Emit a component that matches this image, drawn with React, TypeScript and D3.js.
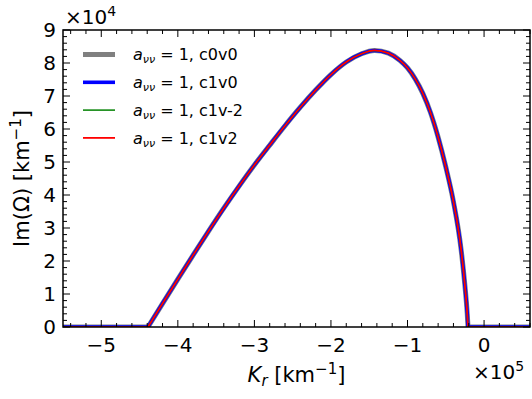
import React from "react";
import * as d3 from "d3";

// x in units of 1e5 km^-1, y in units of 1e4 km^-1
const kr = [-5.5, -4.39, -4.2, -4.0, -3.8, -3.6, -3.4, -3.2, -3.0, -2.8, -2.6, -2.4, -2.2, -2.0, -1.8, -1.6, -1.43, -1.25, -1.1, -1.0, -0.9, -0.8, -0.7, -0.6, -0.5, -0.4, -0.3, -0.25, -0.22, -0.21, 0.6];
const imOmega = [0, 0, 0.71, 1.45, 2.18, 2.9, 3.6, 4.27, 4.91, 5.51, 6.1, 6.66, 7.18, 7.65, 8.03, 8.28, 8.38, 8.3, 8.08, 7.85, 7.52, 7.08, 6.5, 5.75, 4.85, 3.8, 2.35, 1.25, 0.41, 0, 0];

const seriesNames = ["c0v0", "c1v0", "c1v-2", "c1v2"];
const seriesColors = ["#808080", "#0000ff", "#008000", "#ff0000"];
const seriesWidths = [5, 3.6, 1.5, 1.8];

const xTicks = [-5, -4, -3, -2, -1, 0];
const yTicks = [0, 1, 2, 3, 4, 5, 6, 7, 8, 9];

const W = 532, H = 399;
const L = 63, R = 530, T = 30, B = 327;
const FONT = "DejaVu Sans, sans-serif";
const FS = 20;
const LFS = 21;

export default function App() {
  const x = d3.scaleLinear().domain([-5.5, 0.6]).range([L, R]);
  const y = d3.scaleLinear().domain([0, 9]).range([B, T]);

  const pts = kr.map((k, i) => [k, imOmega[i]] as [number, number]);
  const firstPos = imOmega.findIndex((v) => v > 0) - 1;
  let lastPos = imOmega.length - 1;
  while (imOmega[lastPos] <= 0) lastPos--;
  lastPos += 1;
  const hump = pts.slice(firstPos, lastPos + 1);
  const flatL = pts.slice(0, firstPos + 1);
  const flatR = pts.slice(lastPos);
  const smooth = d3.line().x((d) => x(d[0])).y((d) => y(d[1])).curve(d3.curveMonotoneX);
  const lin = d3.line().x((d) => x(d[0])).y((d) => y(d[1]));

  const minorX = d3.range(-5.4, 0.61, 0.2).map((v) => Math.round(v * 10) / 10).filter((v) => !xTicks.includes(v));
  const minorY = d3.range(0, 9.01, 0.2).map((v) => Math.round(v * 10) / 10).filter((v) => !yTicks.includes(v));

  const legY0 = 54.5, legDy = 27.8;

  return (
    <svg width={W} height={H} style={{ position: "absolute", left: 0, top: 0, background: "#fff" }} fontFamily={FONT}>
      <rect x={0} y={0} width={W} height={H} fill="#fff" />
      <defs>
        <clipPath id="clip">
          <rect x={L} y={T} width={R - L} height={B - T} />
        </clipPath>
      </defs>
      <g clipPath="url(#clip)">
        {seriesNames.map((n, i) => (
          <g key={n} fill="none" stroke={seriesColors[i]} strokeWidth={seriesWidths[i]}>
            <path d={lin(flatL) || ""} />
            <path d={smooth(hump) || ""} />
            <path d={lin(flatR) || ""} />
          </g>
        ))}
      </g>
      <g stroke="#000" strokeWidth={1}>
        {xTicks.map((t) => (
          <g key={"xt" + t}>
            <line x1={x(t)} x2={x(t)} y1={B} y2={B - 7} />
            <line x1={x(t)} x2={x(t)} y1={T} y2={T + 7} />
          </g>
        ))}
        {minorX.map((t) => (
          <g key={"xm" + t}>
            <line x1={x(t)} x2={x(t)} y1={B} y2={B - 4} />
            <line x1={x(t)} x2={x(t)} y1={T} y2={T + 4} />
          </g>
        ))}
        {yTicks.map((t) => (
          <g key={"yt" + t}>
            <line x1={L} x2={L + 7} y1={y(t)} y2={y(t)} />
            <line x1={R} x2={R - 7} y1={y(t)} y2={y(t)} />
          </g>
        ))}
        {minorY.map((t) => (
          <g key={"ym" + t}>
            <line x1={L} x2={L + 4} y1={y(t)} y2={y(t)} />
            <line x1={R} x2={R - 4} y1={y(t)} y2={y(t)} />
          </g>
        ))}
      </g>
      <rect x={L} y={T} width={R - L} height={B - T} fill="none" stroke="#000" strokeWidth={1.5} />
      <g fontSize={FS} fill="#000">
        {xTicks.map((t) => (
          <text key={"xl" + t} x={x(t)} y={352} textAnchor="middle">
            {t < 0 ? "\u2212" + Math.abs(t) : String(t)}
          </text>
        ))}
        {yTicks.map((t) => (
          <text key={"yl" + t} x={56} y={y(t) + 7.3} textAnchor="end">
            {String(t)}
          </text>
        ))}
      </g>
      <text x={65} y={24} fontSize={FS}>
        ×10<tspan dy={-8} fontSize={14}>4</tspan>
      </text>
      <text x={473} y={379} fontSize={FS}>
        ×10<tspan dy={-8} fontSize={14}>5</tspan>
      </text>
      <text x={(L + R) / 2} y={382} fontSize={LFS} textAnchor="middle">
        <tspan fontStyle="italic">K</tspan>
        <tspan fontStyle="italic" fontSize={15} dy={4}>r</tspan>
        <tspan dy={-4}> [km</tspan>
        <tspan fontSize={15} dy={-8}>−1</tspan>
        <tspan dy={8}>]</tspan>
      </text>
      <text transform={`translate(29, ${(T + B) / 2}) rotate(-90)`} fontSize={LFS} textAnchor="middle">
        Im(Ω) [km<tspan fontSize={15} dy={-8}>−1</tspan><tspan dy={8}>]</tspan>
      </text>
      {seriesNames.map((n, i) => {
        const ly = legY0 + i * legDy;
        return (
          <g key={"lg" + n}>
            <line x1={83} x2={115} y1={ly} y2={ly} stroke={seriesColors[i]} strokeWidth={seriesWidths[i]} />
            <text x={133} y={ly + 5.8} fontSize={16}>
              <tspan fontStyle="italic">a</tspan>
              <tspan fontStyle="italic" fontSize={11} dy={3}>νν</tspan>
              <tspan dy={-3}> = 1, {n}</tspan>
            </text>
          </g>
        );
      })}
    </svg>
  );
}
